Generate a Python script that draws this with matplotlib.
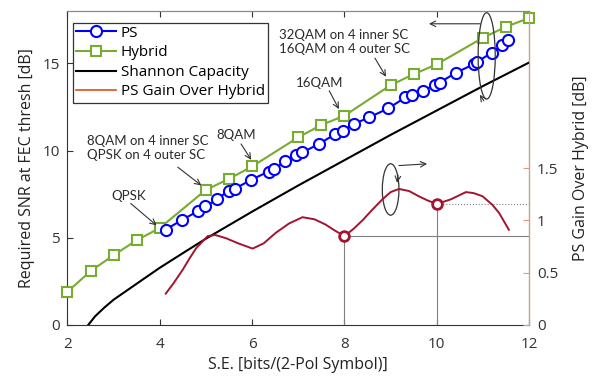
import numpy as np
import matplotlib
matplotlib.use('Agg')
import matplotlib.pyplot as plt
from matplotlib.lines import Line2D
from matplotlib.patches import Ellipse

plt.rcParams['font.family'] = ['Open Sans', 'DejaVu Sans']

# ---- data
hyb_se = [2, 2.5, 3, 3.5, 4, 5, 5.5, 6, 7, 7.5, 8, 9, 9.5, 10, 11, 11.5, 12]
hyb_snr = [1.9, 3.09, 4.0, 4.86, 5.56, 7.75, 8.38, 9.09, 10.76, 11.47, 12.0,
           13.75, 14.38, 14.95, 16.47, 17.1, 17.6]

ps_se = [4.13, 4.49, 4.83, 4.99, 5.24, 5.49, 5.62, 5.98, 6.36, 6.48, 6.72, 6.96,
         7.09, 7.45, 7.8, 7.96, 8.21, 8.53, 8.95, 9.32, 9.46, 9.7, 9.95, 10.06,
         10.42, 10.8, 10.87, 11.2, 11.41, 11.55]
ps_snr = [5.47, 6.04, 6.53, 6.8, 7.2, 7.71, 7.8, 8.33, 8.8, 8.95, 9.39, 9.75,
          9.9, 10.38, 10.95, 11.14, 11.53, 11.9, 12.42, 13.05, 13.18, 13.43, 13.75,
          13.9, 14.47, 14.95, 15.09, 15.62, 16.04, 16.33]

sh_se = [2.45, 2.6, 2.8, 3.0, 3.3, 3.6, 4.0, 4.5, 5.0, 6.0, 7.0, 8.0, 9.0, 10.0, 11.0, 12.0]
sh_snr = [0.0, 0.5, 1.0, 1.45, 2.0, 2.55, 3.28, 4.12, 4.95, 6.5, 8.0, 9.45, 10.9, 12.3, 13.7, 15.05]

gain_se = [4.13, 4.3, 4.5, 4.65, 4.79, 5.04, 5.2, 5.43, 5.7, 6.01, 6.25, 6.51,
           6.8, 7.09, 7.35, 7.59, 7.8, 8.0, 8.2, 8.39, 8.6, 8.82, 9.0, 9.18,
           9.4, 9.61, 9.8, 10.0, 10.3, 10.63, 10.8, 10.99, 11.2, 11.35, 11.56]
gain_db = [0.30, 0.40, 0.53, 0.64, 0.735, 0.85, 0.86, 0.83, 0.78, 0.73, 0.78, 0.88,
           0.97, 1.03, 1.01, 0.96, 0.9, 0.85, 0.92, 1.0, 1.1, 1.2, 1.27, 1.30,
           1.28, 1.23, 1.19, 1.157, 1.2, 1.27, 1.26, 1.23, 1.15, 1.07, 0.91]

mark_se = [8, 10]
mark_db = [0.85, 1.157]

fig = plt.figure(figsize=(6.02, 3.81), dpi=100)
ax = fig.add_axes([0.112, 0.147, 0.767, 0.824])
ax2 = ax.twinx()

ax.plot(hyb_se, hyb_snr, '-s', color='#77ac30', mfc='white', mec='#77ac30',
        ms=7, mew=1.5, lw=1.5, zorder=3, clip_on=False)
ax.plot(ps_se, ps_snr, '-o', color='#0000ff', mfc='white', mec='#0000ff',
        ms=8, mew=1.5, lw=1.5, zorder=4, clip_on=False)
ax.plot(sh_se, sh_snr, '-', color='black', lw=1.5, zorder=2)

# gain curve on right axis
ax2.plot(gain_se, gain_db, '-', color='#a2142f', lw=1.4, zorder=3)
gray = '#808080'
ax2.plot([8, 8], [0, 0.85], color=gray, lw=0.8)
ax2.plot([8, 12], [0.85, 0.85], color=gray, lw=0.8)
ax2.plot([10, 10], [0, 1.157], color=gray, lw=0.8)
ax2.plot([10, 12], [1.157, 1.157], color=gray, lw=0.8, ls=':')
ax2.plot(mark_se, mark_db, 'o', mfc='white', mec='#a2142f', ms=7, mew=2, zorder=5)

ax.set_xlim(2, 12)
ax.set_ylim(0, 18)
ax2.set_ylim(0, 3)
ax.set_xticks([2, 4, 6, 8, 10, 12])
ax.set_yticks([0, 5, 10, 15])
ax2.set_yticks([0, 0.5, 1, 1.5])
ax2.set_yticklabels(['0', '0.5', '1', '1.5'])

dark = '#333333'
ax.tick_params(axis='x', direction='in', top=True, labelsize=11, colors=dark, length=4, pad=9)
ax.tick_params(axis='y', direction='in', right=False, labelsize=11, colors=dark, length=4, pad=5.5)
orange = '#e8967a'
ax2.tick_params(axis='y', direction='in', color=orange, labelcolor=dark, labelsize=11,
                length=4, pad=5.5)
for s in ['left', 'bottom']:
    ax.spines[s].set_color(dark)
for s in ['top']:
    ax.spines[s].set_color('#888888')
    ax2.spines[s].set_color('#888888')
ax2.spines['right'].set_color(orange)
ax2.spines['left'].set_visible(False)
ax2.spines['bottom'].set_visible(False)

ax.set_xlabel('S.E. [bits/(2-Pol Symbol)]', fontsize=11.5, color='#222222', labelpad=3)
ax.set_ylabel('Required SNR at FEC thresh [dB]', fontsize=11.5, color='#222222', labelpad=5)
ax2.set_ylabel('PS Gain Over Hybrid [dB]', fontsize=11.5, color='#222222', labelpad=11)

# annotations
afont = dict(family=['Lato', 'DejaVu Sans'], fontsize=9.5, color='#2a2a2a')
arr = dict(arrowstyle='->', color='#333333', lw=0.8, shrinkA=0, shrinkB=0)
ax.text(3.32, 7.37, 'QPSK', ha='center', va='center', **afont)
ax.annotate('', xy=(3.93, 5.71), xytext=(3.37, 6.97), arrowprops=arr)
ax.text(2.42, 10.17, '8QAM on 4 inner SC\nQPSK on 4 outer SC', ha='left',
        va='center', linespacing=1.2, **afont)
ax.annotate('', xy=(4.9, 8.0), xytext=(4.39, 9.05), arrowprops=arr)
ax.text(5.65, 10.91, '8QAM', ha='center', va='center', **afont)
ax.annotate('', xy=(5.98, 9.47), xytext=(5.76, 10.38), arrowprops=arr)
ax.text(7.47, 13.87, '16QAM', ha='center', va='center', **afont)
ax.annotate('', xy=(7.88, 12.38), xytext=(7.67, 13.43), arrowprops=arr)
ax.text(6.59, 16.24, '32QAM on 4 inner SC\n16QAM on 4 outer SC', ha='left',
        va='center', linespacing=1.2, **afont)
ax.annotate('', xy=(8.9, 14.23), xytext=(8.66, 15.3), arrowprops=arr)

# ellipses pointing to the axes
ax.add_patch(Ellipse((11.08, 15.43), 0.37, 4.95, fill=False, ec='#333333', lw=0.9, zorder=6))
ax.annotate('', xy=(9.83, 17.27), xytext=(10.94, 17.27), arrowprops=arr)
ax.annotate('', xy=(10.93, 13.2), xytext=(11.02, 12.85), arrowprops=arr)
ax.add_patch(Ellipse((9.0, 7.77), 0.36, 2.95, fill=False, ec='#333333', lw=0.9, zorder=6))
ax.annotate('', xy=(9.79, 9.24), xytext=(9.18, 9.14), arrowprops=arr)
ax.annotate('', xy=(9.14, 8.15), xytext=(9.16, 8.6), arrowprops=arr)

handles = [
    Line2D([], [], color='#0000ff', marker='o', mfc='white', ms=8, mew=1.5, lw=1.5),
    Line2D([], [], color='#77ac30', marker='s', mfc='white', ms=7, mew=1.5, lw=1.5),
    Line2D([], [], color='black', lw=1.5),
    Line2D([], [], color='#d95319', lw=1.2),
]
labels = ['PS', 'Hybrid', 'Shannon Capacity', 'PS Gain Over Hybrid']
leg = ax2.legend(handles, labels, loc='upper left', bbox_to_anchor=(0.013, 0.963),
                 borderaxespad=0, fontsize=11, handlelength=2.6, handletextpad=0.3,
                 labelspacing=0.3, fancybox=False, framealpha=1, edgecolor='#333333',
                 borderpad=0.2)
leg.get_frame().set_linewidth(0.9)

fig.savefig('out.png', dpi=100)
